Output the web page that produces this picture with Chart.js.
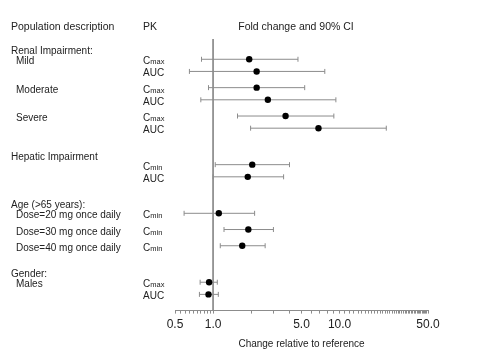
<!DOCTYPE html>
<html>
<head>
<meta charset="utf-8">
<script src="https://cdn.jsdelivr.net/npm/chart.js@4.4.0/dist/chart.umd.min.js"></script>
<style>
  html, body { margin: 0; padding: 0; background: #fff; }
  #wrap { width: 484px; height: 362px; }
</style>
</head>
<body>
<div id="wrap"><canvas id="forest" width="484" height="362"></canvas></div>
<script>
// Values
const groups = ['Renal Impairment:', 'Hepatic Impairment', 'Age (>65 years):', 'Gender:'];
const rowGroup = [0, 0, 0, 0, 0, 0, 1, 1, 2, 2, 2, 3, 3];
const populations = ['Mild', 'Mild', 'Moderate', 'Moderate', 'Severe', 'Severe', '', '',
    'Dose=20 mg once daily', 'Dose=30 mg once daily', 'Dose=40 mg once daily', 'Males', 'Males'];
const pkParams = ['Cmax', 'AUC', 'Cmax', 'AUC', 'Cmax', 'AUC', 'Cmin', 'AUC', 'Cmin', 'Cmin', 'Cmin', 'Cmax', 'AUC'];
const foldChange = [1.93, 2.21, 2.21, 2.71, 3.74, 6.81, 2.04, 1.88, 1.11, 1.90, 1.70, 0.93, 0.92];
const ciLower = [0.81, 0.65, 0.92, 0.80, 1.56, 1.98, 1.04, 1.00, 0.59, 1.22, 1.14, 0.79, 0.78];
const ciUpper = [4.69, 7.64, 5.30, 9.35, 9.01, 23.4, 4.02, 3.61, 2.13, 3.00, 2.58, 1.08, 1.10];
const tickLabels = [0.5, 1, 5, 10, 50];

const FONT = '"Liberation Sans", Arial, sans-serif';
const TEXT = '#222';
const LINE = '#8c8c8c';

/**
 * Vertical slot of each row: 3 units inside a pair, 4 between subgroups, 9 between groups
 */
const rowPos = [];
populations.forEach((p, i) => {
    if (i === 0) { rowPos.push(0); return; }
    let gap = 3;
    if (rowGroup[i] !== rowGroup[i - 1]) gap = 9;
    else if (p !== populations[i - 1]) gap = 4;
    rowPos.push(rowPos[i - 1] + gap);
});

// whisker segments, broken by null points
const whiskers = [];
rowPos.forEach((y, i) => {
    whiskers.push({ x: ciLower[i], y: y }, { x: ciUpper[i], y: y }, { x: null, y: null });
});
const points = rowPos.map((y, i) => ({ x: foldChange[i], y: y }));

// minor ticks of the log axis
function axisTicks() {
    const t = [];
    for (let v = 0.5; v < 0.999; v += 0.05) t.push(+v.toFixed(2));
    for (let v = 1; v < 10; v++) t.push(v);
    for (let v = 10; v <= 50; v++) t.push(v);
    return t.map(value => ({ value }));
}

function drawPk(ctx, text, x, y) {
    // "Cmax" / "Cmin": small lowercase part on the same baseline
    if (text[0] === 'C' && text.length > 1) {
        ctx.font = `10px ${FONT}`;
        ctx.fillText('C', x, y);
        const w = ctx.measureText('C').width;
        ctx.font = `7.5px ${FONT}`;
        ctx.fillText(text.slice(1), x + w, y);
    } else {
        ctx.font = `10px ${FONT}`;
        ctx.fillText(text, x, y);
    }
}

const sideLabels = {
    id: 'sideLabels',
    afterDraw(chart) {
        const ctx = chart.ctx;
        const yScale = chart.scales.y;
        ctx.save();
        ctx.fillStyle = TEXT;
        ctx.textBaseline = 'alphabetic';

        // header row
        ctx.font = `10.5px ${FONT}`;
        ctx.textAlign = 'left';
        ctx.fillText('Population description', 11, 30);
        ctx.fillText('PK', 143, 30);
        ctx.textAlign = 'center';
        ctx.fillText('Fold change and 90% CI', 296, 30);
        ctx.textAlign = 'left';

        rowPos.forEach((pos, i) => {
            const py = yScale.getPixelForValue(pos);
            if (i === 0 || rowGroup[i] !== rowGroup[i - 1]) {
                ctx.font = `10px ${FONT}`;
                ctx.fillText(groups[rowGroup[i]], 11, py - 5);
            }
            if (populations[i] && populations[i] !== populations[i - 1]) {
                ctx.font = `10px ${FONT}`;
                ctx.fillText(populations[i], 16, py + 5);
            }
            drawPk(ctx, pkParams[i], 143, py + 5);
        });
        ctx.restore();
    }
};

new Chart(document.getElementById('forest'), {
    type: 'scatter',
    data: {
        datasets: [
            {
                // estimates, drawn on top
                data: points,
                order: 0,
                pointStyle: 'circle',
                backgroundColor: '#000',
                borderColor: '#000',
                pointBorderWidth: 0,
                pointRadius: 3.2
            },
            {
                type: 'line',
                data: whiskers,
                order: 1,
                borderColor: LINE,
                borderWidth: 1,
                spanGaps: false,
                pointStyle: 'line',
                rotation: 90,
                pointRadius: 2.5,
                pointBorderColor: LINE,
                pointBorderWidth: 1
            },
            {
                // reference line at fold change 1
                type: 'line',
                data: [{ x: 1, y: -5 }, { x: 1, y: 62 }],
                order: 2,
                borderColor: LINE,
                borderWidth: 1,
                pointRadius: 0
            }
        ]
    },
    options: {
        responsive: false,
        animation: false,
        events: [],
        layout: { padding: { left: 175, right: 56, top: 39, bottom: 9 } },
        plugins: { legend: { display: false }, tooltip: { enabled: false } },
        scales: {
            x: {
                type: 'logarithmic',
                min: 0.5,
                max: 50,
                afterBuildTicks: scale => { scale.ticks = axisTicks(); },
                ticks: {
                    autoSkip: false,
                    maxRotation: 0,
                    padding: 4,
                    color: TEXT,
                    font: { family: FONT, size: 12 },
                    callback: v => tickLabels.includes(v) ? v.toFixed(1) : ''
                },
                grid: { drawOnChartArea: false, tickLength: 3, color: LINE },
                border: { color: LINE },
                title: {
                    display: true,
                    text: 'Change relative to reference',
                    color: TEXT,
                    font: { family: FONT, size: 10 },
                    padding: { top: 2, bottom: 3 }
                }
            },
            y: {
                type: 'linear',
                display: false,
                reverse: true,
                min: -5,
                max: 62
            }
        }
    },
    plugins: [sideLabels]
});
</script>
</body>
</html>
